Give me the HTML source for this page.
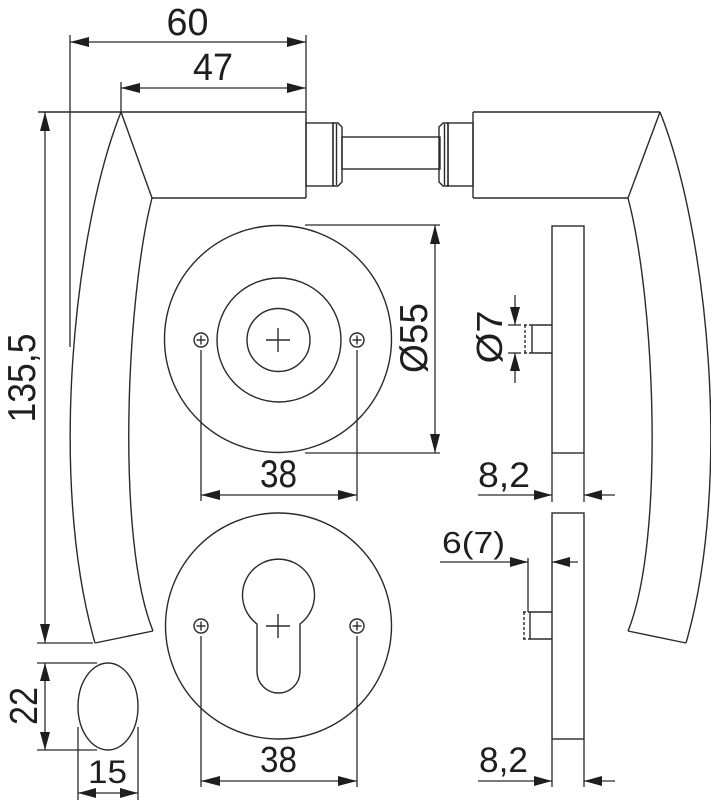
<!DOCTYPE html>
<html>
<head>
<meta charset="utf-8">
<style>
  html, body { margin: 0; padding: 0; background: #ffffff; }
  svg { display: block; }
  text { font-family: "Liberation Sans", "DejaVu Sans", sans-serif; fill: #1e1e1e; }
</style>
</head>
<body>
<svg width="711" height="800" viewBox="0 0 711 800" xmlns="http://www.w3.org/2000/svg">
  <g fill="none" stroke="#2a2a2a" stroke-width="1.4" stroke-linejoin="miter">
    <!-- ===== Left handle ===== -->
    <line x1="38" y1="112" x2="306" y2="112"/>
    <line x1="306" y1="112" x2="306" y2="198"/>
    <line x1="152" y1="198" x2="306" y2="198"/>
    <line x1="121" y1="112" x2="152" y2="198"/>
    <path d="M121 112 C74 230 48 480 95 643"/>
    <path d="M152 198 C126 300 116 540 153 631"/>
    <line x1="95" y1="643" x2="153" y2="631"/>

    <!-- ===== Right handle ===== -->
    <line x1="473" y1="112" x2="660" y2="112"/>
    <line x1="473" y1="112" x2="473" y2="198"/>
    <line x1="473" y1="198" x2="628" y2="198"/>
    <line x1="660" y1="112" x2="628" y2="198"/>
    <path d="M660 112 C707 230 733 480 686 643"/>
    <path d="M628 198 C655 300 665 540 628 631"/>
    <line x1="686" y1="643" x2="628" y2="631"/>

    <!-- ===== Spindle ===== -->
    <rect x="306" y="123" width="27" height="63"/>
    <path d="M333 123 L338 123 L342 127 L342 182 L338 186 L333 186 Z"/>
    <line x1="336.5" y1="124" x2="336.5" y2="185"/>
    <rect x="342" y="137" width="98" height="32"/>
    <path d="M448 123 L443 123 L439 127 L439 182 L443 186 L448 186 Z"/>
    <line x1="444.5" y1="124" x2="444.5" y2="185"/>
    <rect x="448" y="123" width="25" height="63"/>

    <!-- ===== Rosette 1 ===== -->
    <circle cx="278" cy="339" r="113.5"/>
    <circle cx="279" cy="340" r="62"/>
    <circle cx="278.5" cy="340" r="31.5"/>
    <line x1="266" y1="340" x2="290" y2="340"/>
    <line x1="278" y1="328" x2="278" y2="352"/>
    <circle cx="201" cy="340" r="7"/>
    <line x1="196.5" y1="340" x2="205.5" y2="340"/>
    <line x1="201" y1="335.5" x2="201" y2="344.5"/>
    <circle cx="357" cy="340" r="7"/>
    <line x1="352.5" y1="340" x2="361.5" y2="340"/>
    <line x1="357" y1="335.5" x2="357" y2="344.5"/>

    <!-- ===== Rosette 2 ===== -->
    <circle cx="278.5" cy="626" r="113"/>
    <path d="M257 624 A36 36 0 1 1 300 624 L300 671.5 A21.5 21.5 0 0 1 257 671.5 Z"/>
    <line x1="266" y1="626" x2="290" y2="626"/>
    <line x1="278" y1="614" x2="278" y2="638"/>
    <circle cx="201" cy="626" r="7"/>
    <line x1="196.5" y1="626" x2="205.5" y2="626"/>
    <line x1="201" y1="621.5" x2="201" y2="630.5"/>
    <circle cx="357" cy="626" r="7"/>
    <line x1="352.5" y1="626" x2="361.5" y2="626"/>
    <line x1="357" y1="621.5" x2="357" y2="630.5"/>

    <!-- ===== Side view 1 ===== -->
    <rect x="552" y="226" width="32" height="227"/>
    <line x1="532" y1="325" x2="552" y2="325"/>
    <line x1="532" y1="353" x2="552" y2="353"/>
    <line x1="532" y1="325" x2="532" y2="353"/>
    <g stroke-dasharray="3 2">
      <line x1="524" y1="325" x2="532" y2="325"/>
      <line x1="524" y1="353" x2="532" y2="353"/>
      <line x1="525" y1="325" x2="525" y2="353"/>
    </g>

    <!-- ===== Side view 2 ===== -->
    <rect x="552" y="513" width="32" height="226"/>
    <line x1="530" y1="612" x2="552" y2="612"/>
    <line x1="530" y1="639" x2="552" y2="639"/>
    <line x1="530" y1="612" x2="530" y2="639"/>
    <g stroke-dasharray="3 2">
      <line x1="523" y1="612" x2="530" y2="612"/>
      <line x1="523" y1="639" x2="530" y2="639"/>
      <line x1="524" y1="612" x2="524" y2="639"/>
    </g>

    <!-- ===== Oval ===== -->
    <ellipse cx="108" cy="706.5" rx="30" ry="43.5"/>
  </g>

  <!-- ===== Dimension lines ===== -->
  <g fill="none" stroke="#2a2a2a" stroke-width="1.3">
    <!-- 60 -->
    <line x1="70" y1="35" x2="70" y2="347"/>
    <line x1="306" y1="35" x2="306" y2="112"/>
    <line x1="70" y1="42" x2="306" y2="42"/>
    <!-- 47 -->
    <line x1="121" y1="82" x2="121" y2="112"/>
    <line x1="121" y1="88" x2="306" y2="88"/>
    <!-- 135,5 -->
    <line x1="45" y1="112" x2="45" y2="643"/>
    <line x1="37" y1="643" x2="93" y2="643"/>
    <!-- Ø55 -->
    <line x1="305" y1="225" x2="440" y2="225"/>
    <line x1="305" y1="453" x2="440" y2="453"/>
    <line x1="435" y1="225" x2="435" y2="453"/>
    <!-- 38 top -->
    <line x1="201" y1="350" x2="201" y2="501"/>
    <line x1="357" y1="350" x2="357" y2="501"/>
    <line x1="201" y1="495" x2="357" y2="495"/>
    <!-- 38 bottom -->
    <line x1="201" y1="636" x2="201" y2="787"/>
    <line x1="357" y1="636" x2="357" y2="787"/>
    <line x1="201" y1="781" x2="357" y2="781"/>
    <!-- Ø7 -->
    <line x1="508" y1="325" x2="521" y2="325"/>
    <line x1="508" y1="353" x2="521" y2="353"/>
    <line x1="515" y1="295" x2="515" y2="325"/>
    <line x1="515" y1="353" x2="515" y2="383"/>
    <!-- 8,2 top -->
    <line x1="552" y1="453" x2="552" y2="502"/>
    <line x1="584" y1="453" x2="584" y2="502"/>
    <line x1="478" y1="495" x2="552" y2="495"/>
    <line x1="584" y1="495" x2="615" y2="495"/>
    <!-- 8,2 bottom -->
    <line x1="552" y1="739" x2="552" y2="787"/>
    <line x1="584" y1="739" x2="584" y2="787"/>
    <line x1="478" y1="781" x2="552" y2="781"/>
    <line x1="584" y1="781" x2="615" y2="781"/>
    <!-- 6(7) -->
    <line x1="528" y1="558" x2="528" y2="612"/>
    <line x1="440" y1="562" x2="528" y2="562"/>
    <line x1="552" y1="562" x2="578" y2="562"/>
    <!-- 22 -->
    <line x1="37" y1="663" x2="97" y2="663"/>
    <line x1="37" y1="750" x2="97" y2="750"/>
    <line x1="45" y1="663" x2="45" y2="750"/>
    <!-- 15 -->
    <line x1="78" y1="727" x2="78" y2="800"/>
    <line x1="138" y1="727" x2="138" y2="800"/>
    <line x1="78" y1="793" x2="138" y2="793"/>
  </g>

  <!-- ===== Arrowheads ===== -->
  <g fill="#1e1e1e" stroke="none">
    <polygon points="70,42 89,37 89,47"/>
    <polygon points="306,42 287,37 287,47"/>
    <polygon points="121,88 140,83 140,93"/>
    <polygon points="306,88 287,83 287,93"/>
    <polygon points="45,112 40,131 50,131"/>
    <polygon points="45,643 40,624 50,624"/>
    <polygon points="435,225 430,244 440,244"/>
    <polygon points="435,453 430,434 440,434"/>
    <polygon points="201,495 220,490 220,500"/>
    <polygon points="357,495 338,490 338,500"/>
    <polygon points="201,781 220,776 220,786"/>
    <polygon points="357,781 338,776 338,786"/>
    <polygon points="515,325 510,307 520,307"/>
    <polygon points="515,353 510,371 520,371"/>
    <polygon points="552,495 534,490 534,500"/>
    <polygon points="584,495 602,490 602,500"/>
    <polygon points="552,781 534,776 534,786"/>
    <polygon points="584,781 602,776 602,786"/>
    <polygon points="528,562 510,557 510,567"/>
    <polygon points="552,562 570,557 570,567"/>
    <polygon points="45,663 40,681 50,681"/>
    <polygon points="45,750 40,732 50,732"/>
    <polygon points="78,793 96,788 96,798"/>
    <polygon points="138,793 120,788 120,798"/>
  </g>

  <!-- ===== Labels ===== -->
  <text x="187.5" y="35" font-size="38" text-anchor="middle" textLength="42" lengthAdjust="spacingAndGlyphs">60</text>
  <text x="213" y="80" font-size="38" text-anchor="middle" textLength="40" lengthAdjust="spacingAndGlyphs">47</text>
  <text x="278.5" y="487" font-size="39" text-anchor="middle" textLength="37" lengthAdjust="spacingAndGlyphs">38</text>
  <text x="278.5" y="772" font-size="36" text-anchor="middle" textLength="37" lengthAdjust="spacingAndGlyphs">38</text>
  <text transform="translate(427,338) rotate(-90)" x="0" y="0" font-size="39" text-anchor="middle" textLength="70" lengthAdjust="spacingAndGlyphs">Ø55</text>
  <text transform="translate(502,337) rotate(-90)" x="0" y="0" font-size="36" text-anchor="middle" textLength="53" lengthAdjust="spacingAndGlyphs">Ø7</text>
  <text transform="translate(35,378) rotate(-90)" x="0" y="0" font-size="39" text-anchor="middle" textLength="89" lengthAdjust="spacingAndGlyphs">135,5</text>
  <text transform="translate(37,706) rotate(-90)" x="0" y="0" font-size="39" text-anchor="middle" textLength="38" lengthAdjust="spacingAndGlyphs">22</text>
  <text x="478" y="487" font-size="35" textLength="52" lengthAdjust="spacingAndGlyphs">8,2</text>
  <text x="479" y="772" font-size="35" textLength="49" lengthAdjust="spacingAndGlyphs">8,2</text>
  <text x="442" y="553" font-size="31" textLength="63" lengthAdjust="spacingAndGlyphs">6(7)</text>
  <text x="88" y="783" font-size="32" textLength="39" lengthAdjust="spacingAndGlyphs">15</text>
</svg>
</body>
</html>
